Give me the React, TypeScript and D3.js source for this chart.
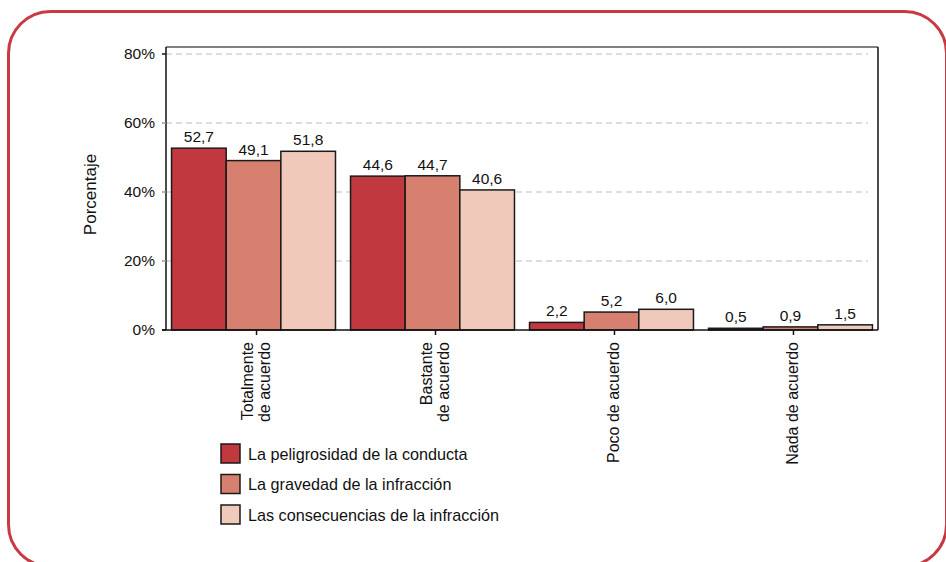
import * as d3 from "d3";

const categories = [["Totalmente", "de acuerdo"], ["Bastante", "de acuerdo"], ["Poco de acuerdo"], ["Nada de acuerdo"]];
const seriesNames = [
  "La peligrosidad de la conducta",
  "La gravedad de la infracción",
  "Las consecuencias de la infracción",
];
const peligrosidad = [52.7, 44.6, 2.2, 0.5];
const gravedad = [49.1, 44.7, 5.2, 0.9];
const consecuencias = [51.8, 40.6, 6.0, 1.5];
const yTicks = [0, 20, 40, 60, 80];
const colors = ["#c1383f", "#d8806f", "#f0c9bb"];

const series = [peligrosidad, gravedad, consecuencias];
const fmt = d3.formatLocale({ decimal: ",", thousands: ".", grouping: [3], currency: ["", "€"] }).format(".1f");

export default function App() {
  const W = 946, H = 562;
  const left = 166, right = 878, top = 47, bottom = 330;
  const font = "'Liberation Sans', Arial, Helvetica, sans-serif";

  const x0 = d3.scaleBand<number>()
    .domain(categories.map((_, i) => i))
    .range([left, right])
    .paddingInner(0.084)
    .paddingOuter(0.031);
  const x1 = d3.scaleBand<number>()
    .domain(series.map((_, i) => i))
    .range([0, x0.bandwidth()]);
  const y = d3.scaleLinear().domain([0, 80]).range([bottom, 54]);

  return (
    <svg width={W} height={H} style={{ position: "absolute", left: 0, top: 0, fontFamily: font }}>
      <rect x={8.5} y={11.5} width={938} height={555} rx={42} fill="white" stroke="#c73a42" strokeWidth={3} />

      {yTicks.filter(t => t > 0).map(t => (
        <line key={t} x1={left} x2={right - 10} y1={y(t)} y2={y(t)} stroke="#bdbdbd" strokeDasharray="6,4" strokeWidth={1} />
      ))}

      {series.map((vals, s) =>
        vals.map((v, c) => (
          <rect key={`${s}-${c}`}
            x={(x0(c) ?? 0) + (x1(s) ?? 0)}
            y={y(v)}
            width={x1.bandwidth()}
            height={bottom - y(v)}
            fill={colors[s]} stroke="#1a1a1a" strokeWidth={1.5} />
        ))
      )}

      {series.map((vals, s) =>
        vals.map((v, c) => (
          <text key={`l${s}-${c}`}
            x={(x0(c) ?? 0) + (x1(s) ?? 0) + x1.bandwidth() / 2}
            y={y(v) - 6}
            textAnchor="middle" fontSize={15.5} fill="#111">{fmt(v)}</text>
        ))
      )}

      {/* frame */}
      <line x1={left} x2={right} y1={top} y2={top} stroke="#555" strokeWidth={1.5} />
      <line x1={right} x2={right} y1={top} y2={bottom} stroke="#111" strokeWidth={1.5} />
      <line x1={left} x2={left} y1={top} y2={bottom} stroke="#111" strokeWidth={1.5} />
      <line x1={left - 4} x2={right} y1={bottom} y2={bottom} stroke="#111" strokeWidth={1.5} />

      {yTicks.map(t => (
        <g key={t}>
          <line x1={left - 4} x2={left} y1={y(t)} y2={y(t)} stroke={t === 0 || t === 80 ? "#111" : "#999"} strokeWidth={1.5} />
          <text x={left - 11} y={y(t)} dy="0.35em" textAnchor="end" fontSize={15.5} fill="#111">{t}%</text>
        </g>
      ))}

      <text transform={`translate(96,${(top + bottom) / 2 + 6}) rotate(-90)`} textAnchor="middle" fontSize={17} fill="#111">Porcentaje</text>

      {categories.map((lines, c) => {
        const cx = (x0(c) ?? 0) + x0.bandwidth() / 2 + 3;
        const n = lines.length;
        return (
          <g key={c}>
            <line x1={cx} x2={cx} y1={bottom} y2={bottom + 5} stroke="#111" strokeWidth={1.5} />
            {lines.map((ln, i) => (
              <text key={i}
                transform={`translate(${cx + (i - (n - 1) / 2) * 17 + 5},${bottom + 12}) rotate(-90)`}
                textAnchor="end" fontSize={16} fill="#111">{ln}</text>
            ))}
          </g>
        );
      })}

      {seriesNames.map((name, i) => (
        <g key={name} transform={`translate(221,${444 + i * 30.5})`}>
          <rect x={0} y={0} width={19} height={19} fill={colors[i]} stroke="#1a1a1a" strokeWidth={1.5} />
          <text x={27} y={10} dy="0.35em" fontSize={16.2} fill="#111">{name}</text>
        </g>
      ))}
    </svg>
  );
}
